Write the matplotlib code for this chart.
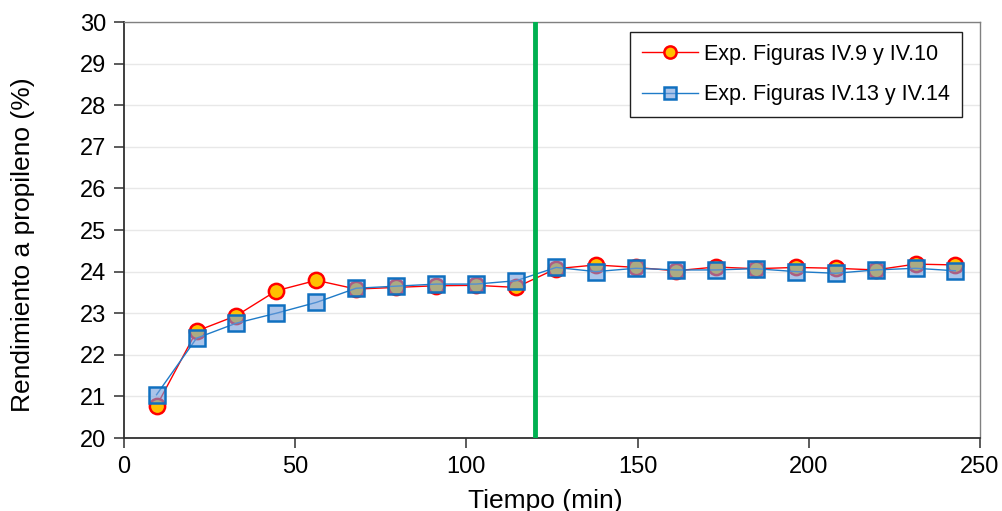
import matplotlib
matplotlib.use("Agg")
import matplotlib.pyplot as plt

plt.rcParams['font.family'] = ['Liberation Sans', 'DejaVu Sans']

time_min = [9.5, 21.2, 32.8, 44.5, 56.2, 67.8, 79.5, 91.2, 102.8, 114.5,
            126.2, 137.8, 149.5, 161.2, 172.8, 184.5, 196.2, 207.8, 219.5, 231.2, 242.8]
serie_iv9 = [20.77, 22.57, 22.94, 23.54, 23.79, 23.58, 23.62, 23.66, 23.67, 23.62,
             24.07, 24.16, 24.10, 24.02, 24.11, 24.07, 24.10, 24.08, 24.04, 24.18, 24.16]
serie_iv13 = [21.04, 22.40, 22.76, 23.00, 23.26, 23.60, 23.65, 23.70, 23.70, 23.78,
              24.10, 24.00, 24.08, 24.04, 24.04, 24.07, 24.00, 23.96, 24.04, 24.08, 24.02]
label_iv9 = "Exp. Figuras IV.9 y IV.10"
label_iv13 = "Exp. Figuras IV.13 y IV.14"
cambio_x = 120
xlabel = "Tiempo (min)"
ylabel = "Rendimiento a propileno (%)"

fig = plt.figure(figsize=(10.02, 5.11), dpi=100)
ax = fig.add_axes([124/1002, (511-438)/511, (980-124)/1002, (438-22)/511])

ax.plot(time_min, serie_iv9, color='red', lw=1.0, marker='o', ms=11,
        mfc='#ffc000', mec='red', mew=1.8, label=label_iv9, zorder=3)
ax.plot(time_min, serie_iv13, color='#1f7bc8', lw=1.0, marker='s', ms=11,
        mfc=(0.45, 0.62, 0.86, 0.6), mec='#1070c0', mew=1.8, label=label_iv13, zorder=4)
ax.axvline(cambio_x, color='#00b050', lw=3.5, zorder=5)

ax.set_xlim(0, 250)
ax.set_ylim(20, 30)
ax.set_xticks([0, 50, 100, 150, 200, 250])
ax.set_yticks(range(20, 31))
ax.yaxis.grid(True, color='#e8e8e8', lw=1.0)
ax.set_axisbelow(True)
ax.tick_params(labelsize=17, direction='out', length=7, width=1.2, color='#404040', pad=6)
for s in ['left', 'bottom']:
    ax.spines[s].set_color('#303030')
    ax.spines[s].set_linewidth(1.3)
for s in ['top', 'right']:
    ax.spines[s].set_color('#808080')
    ax.spines[s].set_linewidth(1.0)

ax.set_xlabel(xlabel, fontsize=19, labelpad=6)
ax.xaxis.set_label_coords(0.492, -0.122)
ax.xaxis.label.set_va('top')
ax.set_ylabel(ylabel, fontsize=19)
ax.yaxis.set_label_coords(-0.104, 0.464)

leg = ax.legend(loc='upper right', bbox_to_anchor=(0.979, 0.976), borderaxespad=0,
                fontsize=15.5, frameon=True, fancybox=False, edgecolor='#202020',
                framealpha=1, handlelength=2.6, markerscale=0.8, borderpad=0.55,
                labelspacing=0.9, handletextpad=0.3)
leg.get_frame().set_linewidth(1.0)

fig.savefig("out.png", dpi=100)
